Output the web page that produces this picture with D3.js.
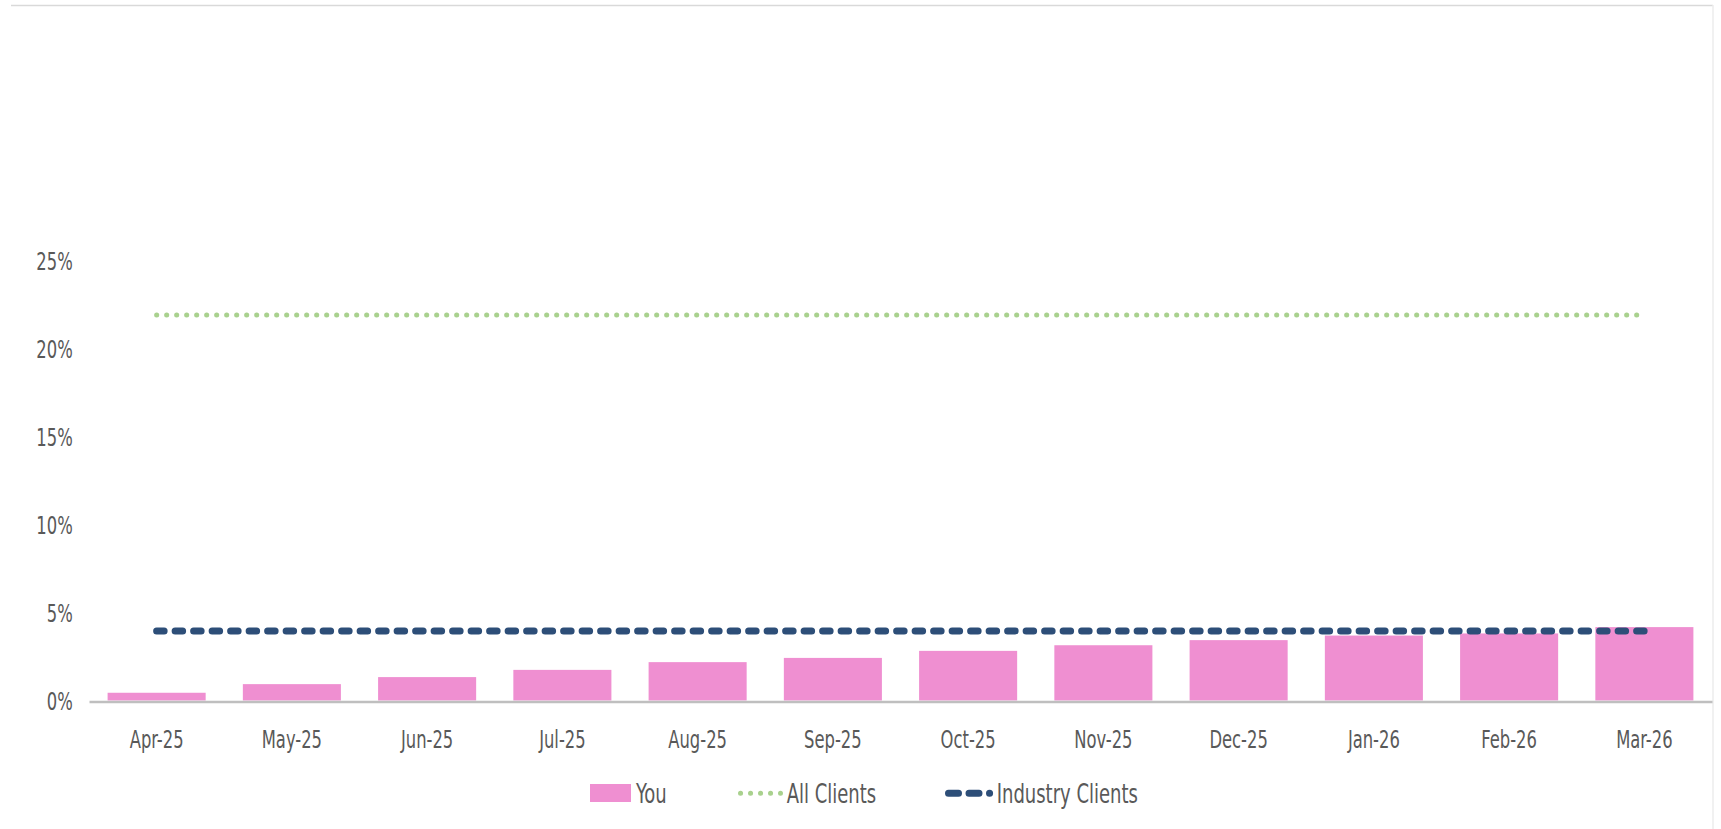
<!DOCTYPE html>
<html>
<head>
<meta charset="utf-8">
<script src="https://cdn.jsdelivr.net/npm/d3@7"></script>
<style>
  body { margin: 0; background: #fff; }
  svg text { font-family: "Liberation Sans Narrow", "DejaVu Sans Condensed", "Liberation Sans", sans-serif; fill: #595959; }
</style>
</head>
<body>
<svg id="chart"></svg>
<script>
// chart data
var months = ["Apr-25", "May-25", "Jun-25", "Jul-25", "Aug-25", "Sep-25",
              "Oct-25", "Nov-25", "Dec-25", "Jan-26", "Feb-26", "Mar-26"];
var you = [0.0044, 0.0093, 0.0133, 0.0174, 0.0218, 0.0242,
           0.0282, 0.0314, 0.0343, 0.0369, 0.0381, 0.0417];
var allClients = [0.219, 0.219, 0.219, 0.219, 0.219, 0.219,
                  0.219, 0.219, 0.219, 0.219, 0.219, 0.219];
var industryClients = [0.0395, 0.0395, 0.0395, 0.0395, 0.0395, 0.0395,
                       0.0395, 0.0395, 0.0395, 0.0395, 0.0395, 0.0395];
var yTicks = [0, 0.05, 0.10, 0.15, 0.20, 0.25];

var W = 1721, H = 829;
var pink = "#EF8FD1", green = "#A9D18E", navy = "#2D4E78";
// labels in the original are tall and narrow, squeeze the font a bit
var squeeze = "scale(0.91,1.24)";

var svg = d3.select("#chart")
  .attr("width", W)
  .attr("height", H);

// outer frame (top and right edges only visible)
svg.append("line")
  .attr("x1", 11).attr("x2", 1713)
  .attr("y1", 5.5).attr("y2", 5.5)
  .attr("stroke", "#d9d9d9").attr("stroke-width", 1.5);
svg.append("line")
  .attr("x1", 1713).attr("x2", 1713)
  .attr("y1", 5).attr("y2", H)
  .attr("stroke", "#ececec").attr("stroke-width", 1.5);

var xScale = d3.scaleBand()
  .domain(months)
  .range([89, 1712])
  .paddingInner(0.275)
  .paddingOuter(0.1375);

var yScale = d3.scaleLinear()
  .domain([0, 0.25])
  .range([700.5, 260.5]);

// y axis labels, no line
var yAxis = d3.axisLeft(yScale)
  .tickValues(yTicks)
  .tickSize(0)
  .tickPadding(16)
  .tickFormat(d3.format(".0%"));

svg.append("g")
  .attr("transform", "translate(89,0)")
  .call(yAxis)
  .call(function(g) { g.select(".domain").remove(); })
  .selectAll("text")
    .attr("font-size", "20px")
    .style("font-family", null)
    .attr("fill", null)
    .attr("x", 0)
    .attr("dy", "0.365em")
    .attr("transform", "translate(-16.3,0) " + squeeze);

// bars
svg.append("g")
  .selectAll(".bar")
  .data(you)
  .enter().append("rect")
    .attr("class", "bar")
    .attr("x", function(d, i) { return xScale(months[i]); })
    .attr("width", xScale.bandwidth())
    .attr("y", function(d) { return yScale(d); })
    .attr("height", function(d) { return yScale(0) - yScale(d); })
    .attr("fill", pink);

// x axis
var xAxis = d3.axisBottom(xScale)
  .tickSize(0)
  .tickPadding(0);

svg.append("g")
  .attr("transform", "translate(0,701.5)")
  .call(xAxis)
  .call(function(g) {
    g.select(".domain")
      .attr("stroke", "#BFBFBF")
      .attr("stroke-width", 2.5);
  })
  .selectAll("text")
    .attr("font-size", "20px")
    .style("font-family", null)
    .attr("fill", null)
    .attr("y", 0)
    .attr("transform", "translate(0,29) " + squeeze);

var lineGen = d3.line()
  .x(function(d, i) { return xScale(months[i]) + xScale.bandwidth() / 2; })
  .y(function(d) { return yScale(d); });

svg.append("path")
  .datum(allClients)
  .attr("d", lineGen)
  .attr("fill", "none")
  .attr("stroke", green)
  .attr("stroke-width", 5)
  .attr("stroke-linecap", "round")
  .attr("stroke-dasharray", "0.1,9.9");

svg.append("path")
  .datum(industryClients)
  .attr("d", lineGen)
  .attr("fill", "none")
  .attr("stroke", navy)
  .attr("stroke-width", 7)
  .attr("stroke-linecap", "round")
  .attr("stroke-dasharray", "7.5,11");

// legend
var legend = svg.append("g").attr("class", "legend");
var ly = 793.3;

function legendText(x, label) {
  legend.append("text")
    .attr("transform", "translate(" + x + "," + ly + ") " + squeeze)
    .attr("dy", "0.365em")
    .attr("font-size", "22px")
    .text(label);
}

legend.append("rect")
  .attr("x", 590).attr("y", 784)
  .attr("width", 41).attr("height", 18)
  .attr("fill", pink);
legendText(636, "You");

legend.append("line")
  .attr("x1", 740.5).attr("x2", 780.5)
  .attr("y1", ly).attr("y2", ly)
  .attr("stroke", green)
  .attr("stroke-width", 5)
  .attr("stroke-linecap", "round")
  .attr("stroke-dasharray", "0.1,9.9");
legendText(786.7, "All Clients");

legend.append("line")
  .attr("x1", 948.5).attr("x2", 989.6)
  .attr("y1", ly).attr("y2", ly)
  .attr("stroke", navy)
  .attr("stroke-width", 7)
  .attr("stroke-linecap", "round")
  .attr("stroke-dasharray", "10,10.5");
legendText(996.7, "Industry Clients");
</script>
</body>
</html>
